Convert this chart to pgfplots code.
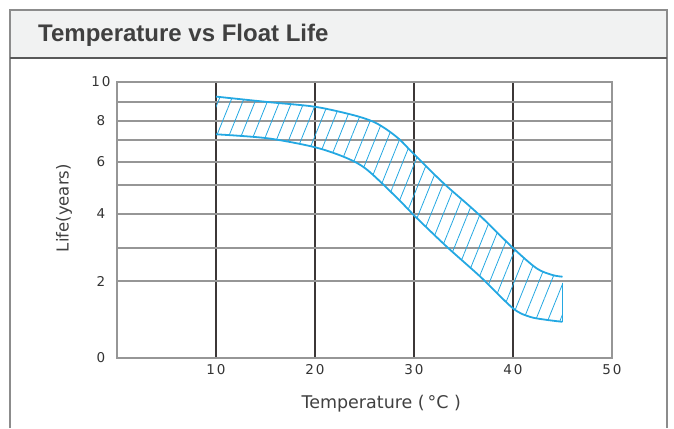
\documentclass[border=0pt]{standalone}
\usepackage{fontspec}
\setmainfont{DejaVu Sans}
\newfontfamily\titlefont{Liberation Sans}
\newfontfamily\tickfont{DejaVu Sans}[LetterSpace=14]
\usepackage{pgfplots}
\usepackage{pgfplotstable}
\pgfplotsset{compat=1.18}
\usepgfplotslibrary{fillbetween}
\usetikzlibrary{patterns.meta}

\definecolor{curveblue}{RGB}{36,168,226}
\definecolor{gridgray}{RGB}{150,150,150}
\definecolor{griddark}{RGB}{60,55,55}
\definecolor{headbg}{RGB}{241,242,242}
\definecolor{framegray}{RGB}{140,140,140}
\definecolor{textgray}{RGB}{64,64,64}

% life in years
\pgfplotstableread{
t    life
10   9.27
15.2 9.0
20   8.75
23.8 8.32
25.9 7.96
27.3 7.53
28.6 7.0
29.9 6.4
33   5.07
36.4 4.03
40   3.0
42.4 2.38
44   2.18
45   2.13
}\uppertab
\pgfplotstableread{
t    life
10   7.3
15.2 7.09
20   6.67
23.2 6.18
25.3 5.65
28.6 4.45
29.9 3.99
33.3 3.04
36.7 2.13
40   1.29
41.7 1.07
43.4 0.99
45   0.94
}\lowertab

\begin{document}
\begin{tikzpicture}
\path (0pt,0pt) rectangle (674pt,428pt);
% header box
\fill[headbg] (10pt,370pt) rectangle (667pt,418pt);
\draw[framegray,line width=1.2pt] (10pt,0pt) -- (10pt,418pt) -- (667pt,418pt) -- (667pt,0pt);
\draw[black!65,line width=2.4pt] (10pt,370pt) -- (667pt,370pt);
\node[anchor=base west,inner sep=0,text=textgray] at (38pt,386pt)
  {\titlefont\fontsize{24}{28}\selectfont\bfseries Temperature vs Float Life};

\begin{axis}[
  set layers,
  at={(117pt,70pt)}, anchor=south west,
  scale only axis, width=495pt, height=276pt,
  xmin=0, xmax=50, ymin=0, ymax=10,
  % the printed y scale is not linear: piecewise map of years to height
  declare function={lm(\v)= (\v<2) ? 1.395*\v :
    ((\v<3) ? 2.790+1.196*(\v-2) :
    ((\v<4) ? 3.986+1.231*(\v-3) :
    ((\v<5) ? 5.217+1.051*(\v-4) :
    ((\v<6) ? 6.268+0.833*(\v-5) :
    ((\v<7) ? 7.101+0.798*(\v-6) :
    ((\v<8) ? 7.899+0.688*(\v-7) :
    ((\v<9) ? 8.587+0.688*(\v-8) : 9.275+0.725*(\v-9))))))));},
  xtick={10,20,30,40}, xticklabels={10,20,30,40},
  extra x ticks={50}, extra x tick labels={50},
  ytick={0,2.790,5.217,7.101,8.587,10}, yticklabels={0,2,4,6,8,10},
  minor ytick={3.986,6.268,7.899,9.275},
  xmajorgrids, ymajorgrids, yminorgrids,
  x grid style={griddark,line width=1.3pt},
  y grid style={gridgray,line width=1.5pt},
  major tick length=0pt, minor tick length=0pt,
  axis line style={gridgray,line width=1.5pt},
  tick label style={font=\tickfont\fontsize{13.5}{15}\selectfont,text=black!80},
  xticklabel style={anchor=center,yshift=-12pt},
  yticklabel style={anchor=center,xshift=-16pt},
  xlabel={Temperature (\,°C )},
  xlabel style={at={(axis description cs:0.534,-0.167)},anchor=center,
    font=\fontsize{17.5}{20}\selectfont,text=textgray},
  ylabel={Life(years)},
  ylabel style={at={(axis description cs:-0.107,0.543)},anchor=center,
    font=\fontsize{16.5}{18}\selectfont,text=textgray},
]
\addplot[name path=upper,curveblue,line width=1.8pt,smooth,tension=0.5]
  table[x=t,y expr={lm(\thisrow{life})}] {\uppertab};
\addplot[name path=lower,curveblue,line width=1.8pt,smooth,tension=0.5]
  table[x=t,y expr={lm(\thisrow{life})}] {\lowertab};
\addplot[draw=none,pattern={Lines[angle=68,distance=11.4pt,line width=0.8pt]},
  pattern color=curveblue] fill between[of=upper and lower];
\addplot[curveblue,line width=1.8pt] coordinates {(45,2.715) (45,1.311)};
\end{axis}
\end{tikzpicture}
\end{document}
